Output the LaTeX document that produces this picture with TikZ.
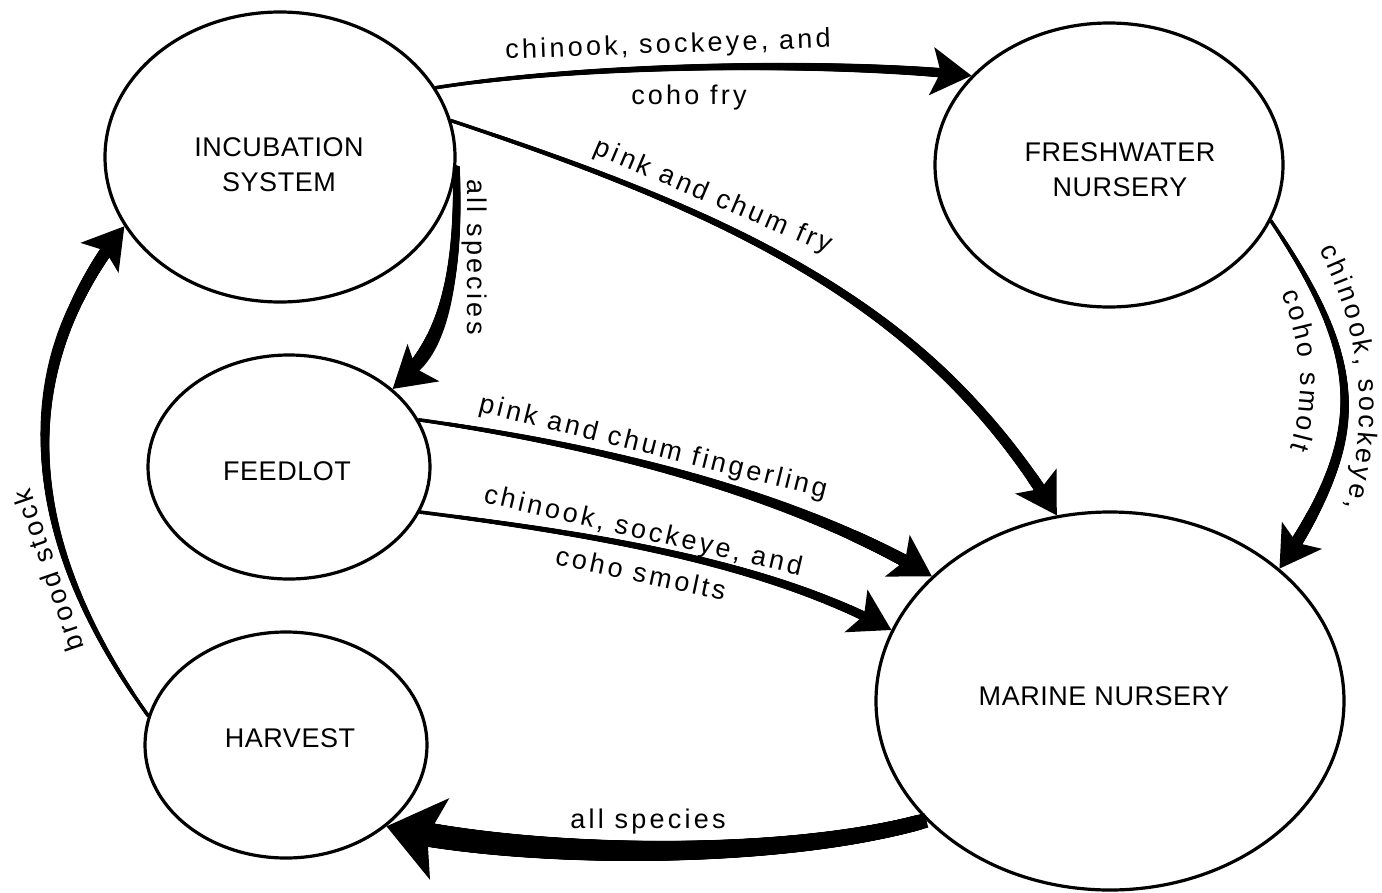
\documentclass[tikz,border=0pt]{standalone}
\usepackage{fontspec}
\setmainfont{Liberation Sans}
\newfontfamily\labfont[LetterSpace=12]{Liberation Sans}
\newfontfamily\plainlabfont{Liberation Sans}
\newfontfamily\boxfont[LetterSpace=2]{Liberation Sans}
\usetikzlibrary{shapes.geometric,arrows.meta,decorations.markings,decorations.text}
\tikzset{
  ell/.style={ellipse, draw, line width=3.2pt, inner sep=0pt},
  boxtext/.style={font=\boxfont\fontsize{27}{35}\selectfont, align=center, inner sep=0pt},
  lab/.style={font=\labfont\fontsize{27}{34}\selectfont, inner sep=0pt},
  tip/.style={-{Stealth[length=40pt,width=48pt,inset=9pt]}},
  bigtip/.style={-{Stealth[length=54pt,width=82pt,inset=12pt]}},
  taper/.style n args={4}{line width=#1pt,
    postaction={decorate, decoration={markings,
      mark=between positions #3 and #4 step 1pt with {%
        \pgfmathsetmacro\rr{0.5*(#1+(#2-#1)*(\pgfkeysvalueof{/pgf/decoration/mark info/distance from start})/(\pgfdecoratedpathlength))}%
        \fill (0,0) circle[radius=\rr pt];}}}},
  curvelab/.style={decorate, decoration={text effects along path, text={#1}, text align=center,
      text effects/.cd, text along path,
      character widths={inner xsep=1.6pt, font=\plainlabfont\fontsize{27}{34}\selectfont},
      characters={inner sep=0pt, font=\plainlabfont\fontsize{27}{34}\selectfont}}},
}
\begin{document}
\begin{tikzpicture}[x=1pt,y=-1pt]
\fill[white] (0,0) rectangle (1382,892);
\useasboundingbox (0,0) rectangle (1382,892);

% ellipses
\node[ell, minimum width=350pt, minimum height=290pt] (INC) at (280,157) {};
\node[ell, minimum width=348pt, minimum height=284pt] (FW) at (1109,165) {};
\node[ell, minimum width=282pt, minimum height=224pt] (FEED) at (289,467) {};
\node[ell, minimum width=282pt, minimum height=226pt] (HARV) at (286,745) {};
\node[ell, minimum width=468pt, minimum height=378pt] (MAR) at (1110,701) {};

% box texts
\node[boxtext] (INCt) at (279,165) {INCUBATION\\SYSTEM};
\node[boxtext] (FWt) at (1120,170) {FRESHWATER\\NURSERY};
\node[boxtext] (FEEDt) at (287,471) {FEEDLOT};
\node[boxtext] (HARVt) at (290,738) {HARVEST};
\node[boxtext] (MARt) at (1104,696) {MARINE NURSERY};

% connectors
\draw[taper={3.5}{10}{0}{0.96}, tip] (INC.24) .. controls (600,62) and (850,62) .. (FW.147);
\draw[taper={3.5}{12}{0}{0.96}, tip] (INC.12) .. controls (738,216) and (929,305) .. (MAR.106);
\draw[taper={7}{13}{0.01}{0.92}, tip] (INC.-3) .. controls (459,260) and (450,340) .. (FEED.37);
\draw[taper={3.5}{13}{0}{0.95}, tip] (FW.-19) .. controls (1364,359) and (1371,433) .. (MAR.38);
\draw[taper={3.5}{13}{0}{0.96}, tip] (FEED.20) .. controls (596,445) and (790,492) .. (MAR.145);
\draw[taper={3.5}{10}{0}{0.96}, tip] (FEED.-19) .. controls (600,535) and (767,563) .. (MAR.162);
\draw[taper={15}{25}{0.014}{0.95}, bigtip] (MAR.213) .. controls (780,862) and (520,858) .. (HARV.-39);
\draw[taper={3.5}{13}{0}{0.96}, tip] (HARV.168) .. controls (15,530) and (15,365) .. (INC.204);

% labels
\node[lab, rotate=2] (l1a) at (668,46) {chinook, sockeye, and};
\node[lab] (l1b) at (689,98) {coho fry};
\node[lab, rotate=-23] (l2) at (713,197) {pink and chum fry};
\node[lab, rotate=-90] (l3) at (474,257) {all species};
\path[curvelab={chinook, sockeye,}] (1300,215) .. controls (1370,330) and (1373,430) .. (1335,545);
\path[curvelab={coho smolt}] (1234,210) .. controls (1316,330) and (1324,415) .. (1249,535);
\node[lab, rotate=-14] (l5) at (653,448) {pink and chum fingerling};
\node[lab, rotate=-13] (l6a) at (643,532) {chinook, sockeye, and};
\node[lab, rotate=-12] (l6b) at (641,573) {coho smolts};
\node[lab] (l7) at (648,822) {all species};
\node[lab, rotate=109] (l8) at (48,571) {brood stock};
\end{tikzpicture}
\end{document}
